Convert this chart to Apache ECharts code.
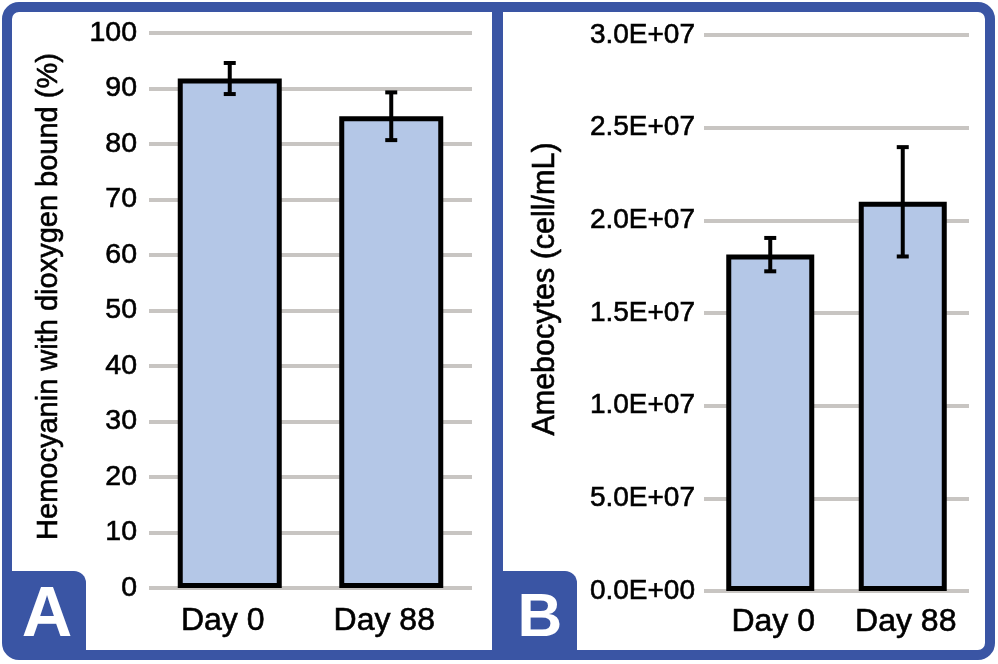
<!DOCTYPE html>
<html>
<head>
<meta charset="utf-8">
<title>Hemocyanin and amebocytes</title>
<script src="https://cdn.jsdelivr.net/npm/echarts@6/dist/echarts.min.js"></script>
<style>
  html, body { margin: 0; padding: 0; background: #ffffff; }
  #chartMain { width: 998px; height: 664px; }
</style>
</head>
<body>
<div id="chartMain"></div>
<script>
// categories shared by both panels
const days = ['Day 0', 'Day 88'];

// panel A: hemocyanin with dioxygen bound (%)
const hemoMean = [91.8, 85.0];
const hemoErr = [2.8, 4.3];
const hemoTicks = [0, 10, 20, 30, 40, 50, 60, 70, 80, 90, 100];

// panel B: amebocytes (cell/mL)
const amebMean = [1.815e7, 2.1e7];
const amebErr = [0.09e7, 0.295e7];
// tick labels as printed in the original (including the 5.0E+07 one)
const amebTickLabels = ['0.0E+00', '5.0E+07', '1.0E+07', '1.5E+07', '2.0E+07', '2.5E+07', '3.0E+07'];

const BLUE = '#3a55a4';
const FONT = 'Liberation Sans, Arial, sans-serif';
// the original text is a touch heavier than plain regular weight
const heavy = { color: '#000', fontFamily: FONT, textBorderColor: '#000', textBorderWidth: 0.6 };

function errorSeries(axisIdx, means, errs) {
  return {
    type: 'custom',
    xAxisIndex: axisIdx,
    yAxisIndex: axisIdx,
    z: 5,
    data: means.map((m, i) => [i, m - errs[i], m + errs[i]]),
    renderItem: function (params, api) {
      const lo = api.coord([api.value(0), api.value(1)]);
      const hi = api.coord([api.value(0), api.value(2)]);
      const cap = 6;
      const st = { stroke: '#000', lineWidth: 4 };
      return {
        type: 'group',
        children: [
          { type: 'line', shape: { x1: hi[0], y1: hi[1], x2: lo[0], y2: lo[1] }, style: st },
          { type: 'line', shape: { x1: hi[0] - cap, y1: hi[1], x2: hi[0] + cap, y2: hi[1] }, style: st },
          { type: 'line', shape: { x1: lo[0] - cap, y1: lo[1], x2: lo[0] + cap, y2: lo[1] }, style: st }
        ]
      };
    }
  };
}

function catAxis(gridIdx, margin, pad) {
  return {
    type: 'category',
    gridIndex: gridIdx,
    data: days,
    axisLine: { show: false },
    axisTick: { show: false },
    axisLabel: Object.assign({ fontSize: 32, margin: margin, padding: pad }, heavy)
  };
}

function initChart() {
  const chart = echarts.init(document.getElementById('chartMain'));
  const option = {
    animation: false,
    backgroundColor: '#ffffff',
    textStyle: { fontFamily: FONT },
    grid: [
      { left: 149, right: 526, top: 33, bottom: 76 },
      { left: 704, right: 29, top: 35, bottom: 73 }
    ],
    xAxis: [catAxis(0, 17, [0, 14, 0, 0]), catAxis(1, 15, [0, 0, 0, 6])],
    yAxis: [
      {
        type: 'value',
        gridIndex: 0,
        min: hemoTicks[0],
        max: hemoTicks[hemoTicks.length - 1],
        interval: 10,
        name: 'Hemocyanin with dioxygen bound (%)',
        nameLocation: 'middle',
        nameGap: 86,
        nameTextStyle: Object.assign({ fontSize: 29, padding: [0, 0, 0, 28] }, heavy),
        axisLine: { show: false },
        axisTick: { show: false },
        axisLabel: Object.assign({ fontSize: 28.5, margin: 12 }, heavy),
        splitLine: { lineStyle: { color: '#c8c5c2', width: 4 } }
      },
      {
        type: 'value',
        gridIndex: 1,
        min: 0,
        max: 3e7,
        interval: 0.5e7,
        name: 'Amebocytes (cell/mL)',
        nameLocation: 'middle',
        nameGap: 143,
        nameTextStyle: Object.assign({ fontSize: 30.5, padding: [0, 0, 0, 48] }, heavy),
        axisLine: { show: false },
        axisTick: { show: false },
        axisLabel: Object.assign({
          fontSize: 28, margin: 9,
          formatter: v => amebTickLabels[Math.round(v / 0.5e7)]
        }, heavy),
        splitLine: { lineStyle: { color: '#c8c5c2', width: 4 } }
      }
    ],
    series: [
      {
        type: 'bar',
        xAxisIndex: 0,
        yAxisIndex: 0,
        data: hemoMean,
        barWidth: 104,
        itemStyle: { color: '#b4c7e7', borderColor: '#000', borderWidth: 5 }
      },
      errorSeries(0, hemoMean, hemoErr),
      {
        type: 'bar',
        xAxisIndex: 1,
        yAxisIndex: 1,
        data: amebMean,
        barWidth: 88,
        itemStyle: { color: '#b4c7e7', borderColor: '#000', borderWidth: 5 }
      },
      errorSeries(1, amebMean, amebErr)
    ],
    graphic: [
      // outer frame and divider
      { type: 'rect', z: 100, shape: { x: 7, y: 7, width: 983, height: 648, r: 12 }, style: { fill: 'none', stroke: BLUE, lineWidth: 10 } },
      { type: 'rect', z: 100, shape: { x: 492, y: 7, width: 11, height: 648 }, style: { fill: BLUE } },
      // panel tabs
      { type: 'rect', z: 100, shape: { x: 10, y: 571, width: 76, height: 82, r: [0, 12, 0, 0] }, style: { fill: BLUE } },
      { type: 'text', z: 101, x: 47, y: 617, style: { text: 'A', fill: '#fff', font: 'bold 70px ' + FONT, align: 'center', verticalAlign: 'middle' } },
      { type: 'rect', z: 100, shape: { x: 500, y: 571, width: 77, height: 82, r: [0, 12, 0, 0] }, style: { fill: BLUE } },
      { type: 'text', z: 101, x: 540, y: 619, style: { text: 'B', fill: '#fff', font: 'bold 62px ' + FONT, align: 'center', verticalAlign: 'middle' } }
    ]
  };
  chart.setOption(option);
}

initChart();
</script>
</body>
</html>
